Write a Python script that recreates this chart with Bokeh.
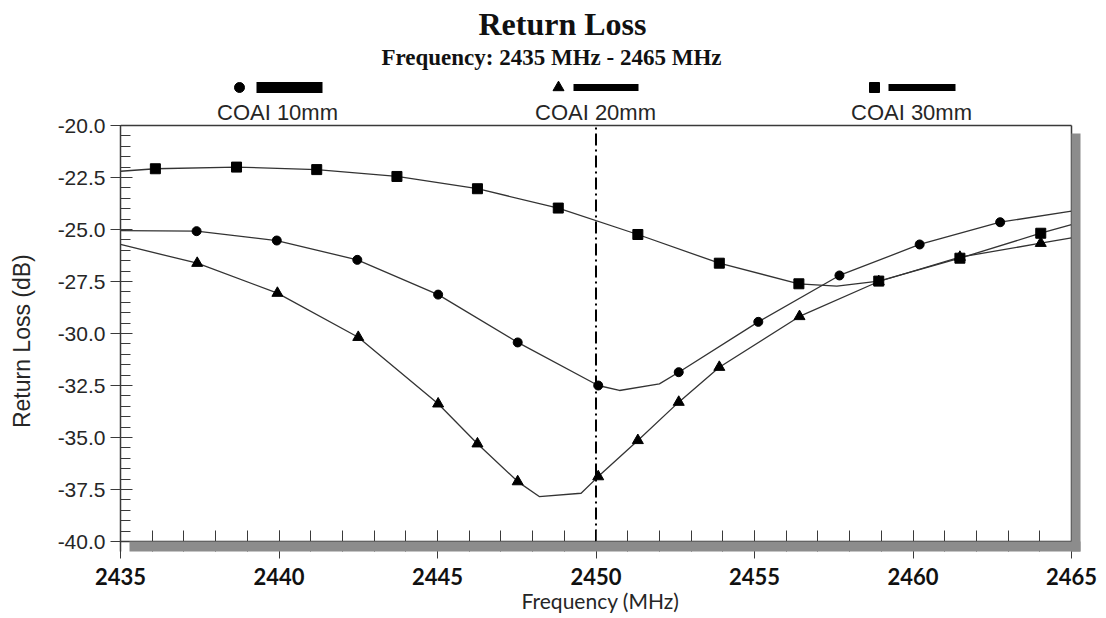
import math
import numpy as np
from bokeh.plotting import figure
from bokeh.layouts import column, row
from bokeh.models import Range1d, FixedTicker, PrintfTickFormatter
from bokeh.core.properties import value
from bokeh.embed import file_html
from bokeh.resources import INLINE

# ---------------- data ----------------
SERIES = ["COAI 10mm", "COAI 20mm", "COAI 30mm"]
TITLE = "Return Loss"
SUBTITLE = "Frequency: 2435 MHz - 2465 MHz"
X_LABEL = "Frequency (MHz)"
Y_LABEL = "Return Loss (dB)"

# traced curves
L10_F = [2435, 2437.4, 2439.93, 2442.47, 2445.02, 2447.53, 2450.07, 2450.74, 2452.0, 2452.61,
         2455.12, 2457.68, 2460.21, 2462.75, 2465]
L10_DB = [-25.05, -25.08, -25.53, -26.46, -28.13, -30.43, -32.5, -32.74, -32.42, -31.86,
          -29.44, -27.21, -25.72, -24.65, -24.12]

L20_F = [2435, 2437.42, 2439.95, 2442.5, 2445.02, 2446.26, 2447.53, 2448.21, 2449.53, 2450.07,
         2451.32, 2452.61, 2453.89, 2456.42, 2458.92, 2461.48, 2464.03, 2465]
L20_DB = [-25.72, -26.62, -28.06, -30.18, -33.38, -35.3, -37.12, -37.84, -37.68, -36.88,
          -35.14, -33.3, -31.62, -29.18, -27.5, -26.33, -25.66, -25.4]

L30_F = [2435, 2436.1, 2438.66, 2441.19, 2443.72, 2446.26, 2448.81, 2451.32, 2453.89, 2456.4,
         2457.6, 2458.92, 2461.48, 2464.03, 2465]
L30_DB = [-22.2, -22.08, -22.0, -22.12, -22.45, -23.04, -23.97, -25.24, -26.62, -27.61,
          -27.72, -27.48, -26.38, -25.18, -24.76]

# marker points
M10_F = [2437.4, 2439.93, 2442.47, 2445.02, 2447.53, 2450.07, 2452.61, 2455.12, 2457.68, 2460.21, 2462.75]
M10_DB = [-25.08, -25.53, -26.46, -28.13, -30.43, -32.5, -31.86, -29.44, -27.21, -25.72, -24.65]

M20_F = [2437.42, 2439.95, 2442.5, 2445.02, 2446.26, 2447.53, 2450.07, 2451.32, 2452.61, 2453.89,
         2456.42, 2458.92, 2461.48, 2464.03]
M20_DB = [-26.62, -28.06, -30.18, -33.38, -35.3, -37.12, -36.88, -35.14, -33.3, -31.62,
          -29.18, -27.5, -26.33, -25.66]

M30_F = [2436.1, 2438.66, 2441.19, 2443.72, 2446.26, 2448.81, 2451.32, 2453.89, 2456.4, 2458.92, 2461.48, 2464.03]
M30_DB = [-22.08, -22.0, -22.12, -22.45, -23.04, -23.97, -25.24, -26.62, -27.61, -27.48, -26.38, -25.18]

CENTER_F = 2450
X_TICKS = [2435, 2440, 2445, 2450, 2455, 2460, 2465]
Y_TICKS = [-40.0, -37.5, -35.0, -32.5, -30.0, -27.5, -25.0, -22.5, -20.0]

# ---------------- page geometry (pixels) ----------------
W, H = 1106, 618
HEADER_H = 97          # header strip (title, subtitle, legend keys)
YLAB_W = 40            # strip holding the rotated y-axis title
FRAME_L, PLOT_R, PLOT_T, PLOT_B = 120, 1071, 125, 541
FRAME_T = 100          # main frame starts above the plot box (legend labels live there)
SHADOW = 9

X_MIN, X_MAX = X_TICKS[0], X_TICKS[-1]
Y_MIN, Y_MAX = Y_TICKS[0], Y_TICKS[-1]
SX = (PLOT_R - FRAME_L) / (X_MAX - X_MIN)
SY = (PLOT_B - PLOT_T) / (Y_MAX - Y_MIN)
x_end = X_MAX + SHADOW / SX
y_end = Y_MAX + (PLOT_T - FRAME_T) / SY
y_start = Y_MIN - (SHADOW + 1) / SY
frame_bottom = PLOT_B + SHADOW + 1


def px(xp):
    return X_MIN + (xp - FRAME_L) / SX


def py(yp):
    return Y_MAX + (PLOT_T - yp) / SY


TXT = "#262626"
AX = "#3a3a3a"
LINE = "#333333"
SHADE = "#8c8c8c"


def strip(w, h):
    fig = figure(width=w, height=h, output_backend="svg", toolbar_location=None,
                 x_range=Range1d(0, w), y_range=Range1d(0, h),
                 x_axis_location=None, y_axis_location=None,
                 min_border_left=0, min_border_right=0, min_border_top=0, min_border_bottom=0)
    fig.outline_line_color = None
    fig.grid.visible = False
    fig.background_fill_color = "white"
    fig.border_fill_color = "white"
    return fig


# ---------------- header strip ----------------
hdr = strip(W, HEADER_H)


def hy(yp):
    return HEADER_H - yp


hdr.text(x=[562], y=[hy(23)], text=[TITLE], text_align="center", text_baseline="middle",
         text_font=value("Liberation Serif"), text_font_style="bold", text_font_size="32px",
         text_color="#111111")
hdr.text(x=[551], y=[hy(57)], text=[SUBTITLE], text_align="center", text_baseline="middle",
         text_font=value("Liberation Serif"), text_font_style="bold", text_font_size="23px",
         text_color="#111111")

leg_marker_x = [239, 558, 874]
leg_bar = [(256, 322, 11), (573, 638, 7), (888, 955, 7)]
leg_label_x = [277, 595, 911]
for mk, mx, sz in zip(["circle", "triangle", "square"], leg_marker_x, [10, 11, 10]):
    hdr.scatter([mx], [hy(87)], marker=mk, size=sz, fill_color="black", line_color="black")
for (b0, b1, w) in leg_bar:
    hdr.segment(x0=[b0], y0=[hy(87)], x1=[b1], y1=[hy(87)], line_color="black", line_width=w)

# ---------------- y-axis title strip ----------------
BODY_H = H - HEADER_H
ylab = strip(YLAB_W, BODY_H)
ylab.text(x=[21], y=[BODY_H - (375 - HEADER_H)], text=[Y_LABEL], angle=math.pi / 2,
          text_align="center", text_baseline="middle", text_font=value("Liberation Sans"),
          text_font_size="23px", text_color=TXT)

# ---------------- main plot ----------------
p = figure(width=W - YLAB_W, height=BODY_H, output_backend="svg", toolbar_location=None,
           x_range=Range1d(X_MIN, x_end), y_range=Range1d(y_start, y_end),
           min_border_left=FRAME_L - YLAB_W, min_border_right=W - FRAME_L - 960,
           min_border_top=FRAME_T - HEADER_H, min_border_bottom=H - frame_bottom)
p.outline_line_color = None
p.grid.visible = False
p.background_fill_color = "white"
p.border_fill_color = "white"

xa = p.xaxis[0]
xa.ticker = FixedTicker(ticks=X_TICKS, minor_ticks=list(np.arange(X_MIN, X_MAX + 0.5, 1.0)))
xa.formatter = PrintfTickFormatter(format="%d")
xa.axis_line_color = None
xa.major_tick_line_color = AX
xa.minor_tick_line_color = AX
xa.major_tick_in = 21
xa.major_tick_out = 7
xa.minor_tick_in = 21
xa.minor_tick_out = 0
xa.major_label_text_font = "Lato"
xa.major_label_text_font_style = "bold"
xa.major_label_text_font_size = "22px"
xa.major_label_text_color = "#111111"
xa.major_label_standoff = 9
xa.axis_label = X_LABEL
xa.axis_label_text_font = "Lato"
xa.axis_label_text_font_style = "normal"
xa.axis_label_text_font_size = "21px"
xa.axis_label_text_color = TXT
xa.axis_label_standoff = 0

ya = p.yaxis[0]
ya.ticker = FixedTicker(ticks=Y_TICKS, minor_ticks=list(np.arange(Y_MIN, Y_MAX + 0.25, 0.5)))
ya.formatter = PrintfTickFormatter(format="%.1f")
ya.bounds = (y_start, Y_MAX)
ya.axis_line_color = AX
ya.axis_line_width = 1.5
ya.major_tick_line_color = AX
ya.minor_tick_line_color = AX
ya.major_tick_in = 12
ya.major_tick_out = 10
ya.minor_tick_in = 10
ya.minor_tick_out = 0
ya.major_label_text_font = "Liberation Sans"
ya.major_label_text_font_size = "21px"
ya.major_label_text_color = TXT
ya.major_label_standoff = 5

# frame lines (top border, right border, bottom axis line)
p.segment(x0=[X_MIN, X_MIN, X_MAX], y0=[Y_MIN, Y_MAX, Y_MIN],
          x1=[X_MAX, X_MAX, X_MAX], y1=[Y_MIN, Y_MAX, Y_MAX],
          line_color=AX, line_width=1.5)

# centre marker line
p.segment(x0=[CENTER_F], y0=[Y_MIN], x1=[CENTER_F], y1=[Y_MAX],
          line_color="black", line_width=2, line_dash="12 4 2 4")

# curves
for f, d in [(L10_F, L10_DB), (L20_F, L20_DB), (L30_F, L30_DB)]:
    p.line(f, d, line_color=LINE, line_width=1.3)

p.scatter(M20_F, M20_DB, marker="triangle", size=11, fill_color="black", line_color="black")
p.scatter(M10_F, M10_DB, marker="circle", size=9, fill_color="black", line_color="black")
p.scatter(M30_F, M30_DB, marker="square", size=10, fill_color="black", line_color="black")

# drop shadow of the plot box (drawn above the axis so minor ticks stop at the axis line)
p.quad(left=[px(129)], right=[x_end], top=[Y_MIN], bottom=[y_start], fill_color=SHADE,
       line_color=None, level="overlay")
p.quad(left=[X_MAX], right=[x_end], top=[py(133)], bottom=[y_start], fill_color=SHADE,
       line_color=None, level="overlay")

# legend labels (under the legend keys of the header)
p.text(x=[px(v) for v in leg_label_x], y=[py(112)] * 3, text=SERIES, text_align="center",
       text_baseline="middle", text_font=value("Liberation Sans"), text_font_size="22px",
       text_color=TXT)

layout = column(hdr, row(ylab, p))
open("out.html", "w").write(file_html(layout, INLINE))
